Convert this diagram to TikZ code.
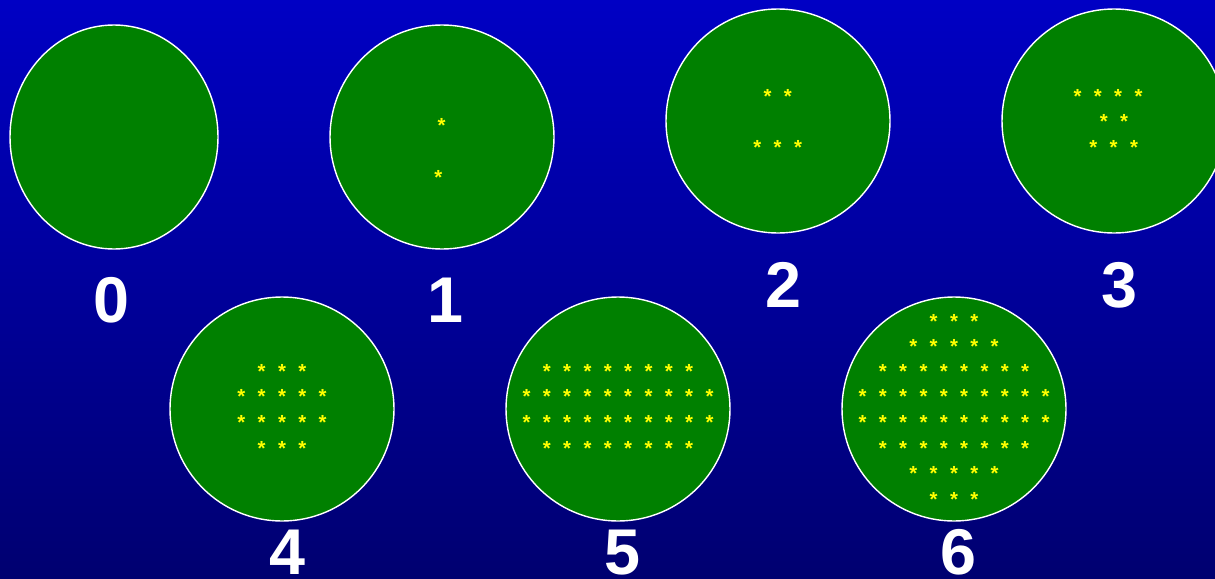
\documentclass[tikz,border=0pt]{standalone}
\usepackage{fontspec}
\setmainfont{Liberation Sans}
\usetikzlibrary{positioning}
\definecolor{bgtop}{RGB}{0,0,196}
\definecolor{bgbot}{RGB}{0,0,112}
\definecolor{leafgreen}{RGB}{0,128,0}
\definecolor{staryellow}{RGB}{255,255,0}
\tikzset{
 disc/.style={fill=leafgreen,draw=white,line width=2pt},
 ast/.style={text=staryellow,font=\bfseries\fontsize{29}{29}\selectfont,inner sep=0pt,anchor=base,yshift=-16.5pt},
 digit/.style={text=white,font=\bfseries\fontsize{92}{92}\selectfont,inner sep=0pt,anchor=base}
}
\begin{document}
\begin{tikzpicture}[x=.05cm,y=-.05cm]
 \shade[top color=bgtop,bottom color=bgbot] (0,0) rectangle (1215,578);
 \clip (0,0) rectangle (1215,578);
 % plates
 \draw[disc] (114,137) ellipse [x radius=104,y radius=112];
 \foreach \x/\y in {442/137,778/121,1114/121,282/409,618/409,954/409}{
  \draw[disc] (\x,\y) circle (112);
 }
 % counts
 \foreach \t/\x/\y in {0/111/322,1/445/322,2/783/307,3/1119/307,4/287/574,5/622/574,6/958/574}{
  \node[digit] (l\t) at (\x,\y) {\t};
 }
 % colonies, plate 1
 \node[ast] (s0-1) at (441.5,121) {*};
 \node[ast] (s0-2) at (438.3,172.5) {*};
 % colonies, plates 2 to 6, one row at a time
 \foreach \cx/\y/\n [count=\r] in {777.7/92.3/2,777.7/143.3/3,
   1108/92.3/4,1113.9/117.3/2,1113.7/143/3,
   282/367.3/3,282/392.3/5,282/418.3/5,282/444.3/3,
   618/367.3/8,618/392.3/10,618/418.3/10,618/444.3/8,
   954/316.7/3,954/341.7/5,954/367.3/8,954/392.3/10,
   954/418/10,954/444/8,954/469.3/5,954/495/3}{
  \foreach \i in {1,...,\n}{
   \node[ast] (s\r-\i) at ({\cx+(\i-(\n+1)/2)*20.33},\y) {*};
  }
 }
\end{tikzpicture}
\end{document}
